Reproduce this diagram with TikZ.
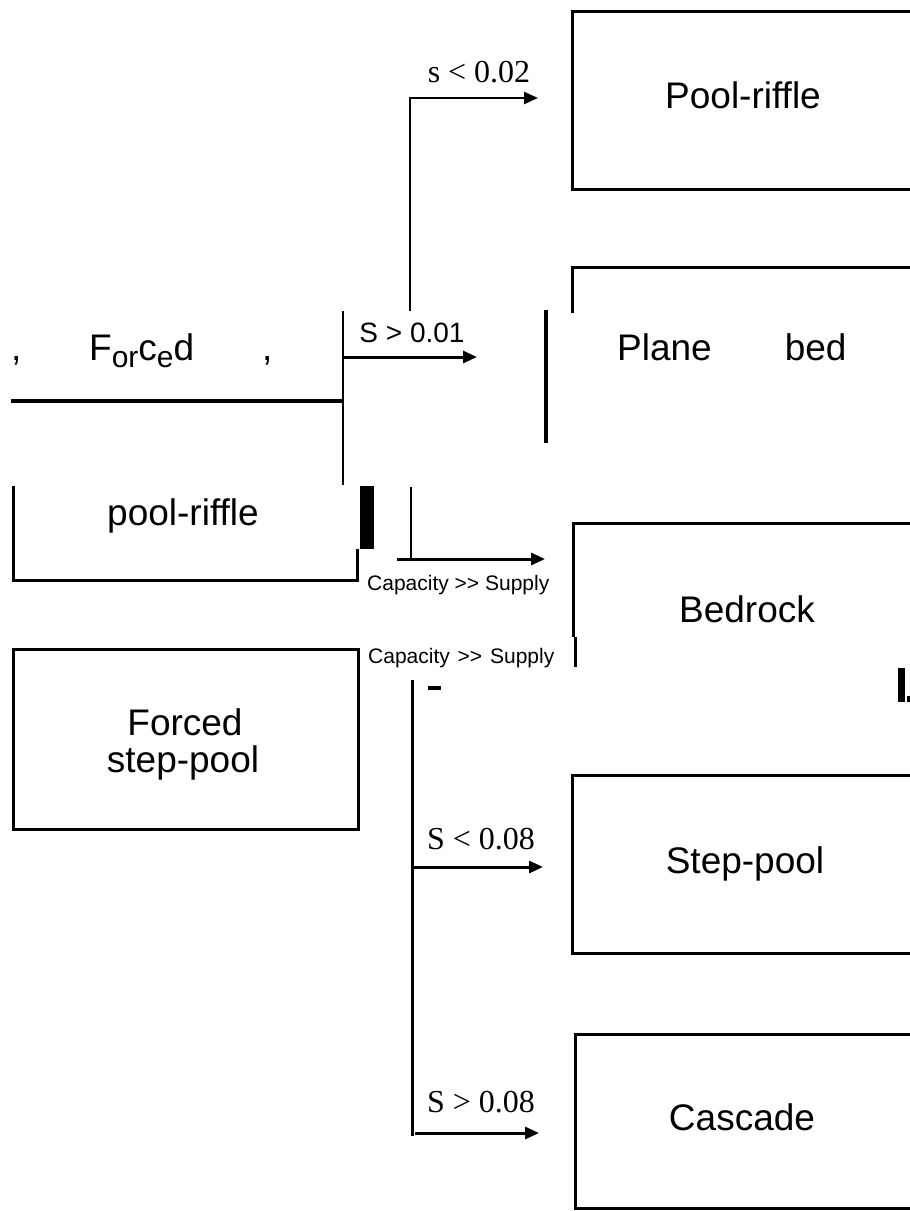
\documentclass[tikz,border=0pt]{standalone}
\usepackage{fontspec}
\setmainfont{Liberation Sans}
\newfontfamily\tnr{Liberation Serif}
\usetikzlibrary{arrows.meta}
\begin{document}
\begin{tikzpicture}[x=1pt,y=-1pt,
  frame/.style={line width=3pt},
  conn/.style={line width=2.4pt},
  arr/.style={line width=3pt,-{Triangle[length=14pt,width=12pt]}},
  big/.style={font=\fontsize{37}{37}\selectfont, inner sep=0pt, anchor=base},
  cond/.style={font=\tnr\fontsize{32}{32}\selectfont, inner sep=0pt, anchor=base},
  captext/.style={font=\fontsize{21}{21}\selectfont, inner sep=0pt, anchor=base west}]
\useasboundingbox (0,0) rectangle (910,1211);

% Pool-riffle box (top right)
\coordinate (pr1) at (910,11); \coordinate (pr2) at (572,11);
\coordinate (pr3) at (572,189); \coordinate (pr4) at (910,189);
\draw[frame] (pr1) -- (pr2) -- (pr3) -- (pr4);
\node[big] (prt) at (743,108) {Pool-riffle};

% s < 0.02 connector
\coordinate (a1) at (410,311); \coordinate (a2) at (410,98); \coordinate (a3) at (538,98);
\draw[arr,line width=2.4pt] (a1) -- (a2) -- (a3);
\node[cond] (l1) at (479,82) {s < 0.02};

% Plane bed box (fragment)
\coordinate (pb1) at (910,267); \coordinate (pb2) at (572,267); \coordinate (pb3) at (572,313);
\draw[frame] (pb1) -- (pb2) -- (pb3);
\coordinate (pb4) at (546,310); \coordinate (pb5) at (546,443);
\draw[line width=3.5pt] (pb4) -- (pb5);
\node[big,anchor=base west] (pbt) at (617,360) {Plane\hspace{73pt}bed};

% junction
\coordinate (j1) at (343,311); \coordinate (j2) at (343,485);
\draw[conn] (j1) -- (j2);
\coordinate (h1) at (11,401); \coordinate (h2) at (343,401);
\draw[line width=3.5pt] (h1) -- (h2);
\coordinate (s1) at (343,357); \coordinate (s2) at (477,357);
\draw[arr] (s1) -- (s2);
\node[font=\fontsize{28}{28}\selectfont, anchor=base, inner sep=0pt] (l2) at (412,342) {S > 0.01};

% Forced (broken)
\node[big,anchor=base west] (c1) at (11,360) {,};
\node[big,anchor=base west] (fo) at (89,360) {F\raisebox{-7pt}{\fontsize{30}{30}\selectfont or}c\raisebox{-7pt}{\fontsize{30}{30}\selectfont e}d};
\node[big,anchor=base west] (c2) at (262,360) {,};

% pool-riffle box (fragment)
\coordinate (p1) at (13,486); \coordinate (p2) at (13,580);
\coordinate (p3) at (357,580); \coordinate (p4) at (357,549);
\draw[frame] (p1) -- (p2) -- (p3) -- (p4);
\fill (360,486) rectangle (374,549);
\node[big] (prl) at (183,525) {pool-riffle};

% Capacity >> Supply arrow
\coordinate (k1) at (411,487); \coordinate (k2) at (411,559);
\draw[conn] (k1) -- (k2);
\coordinate (k3) at (397,559); \coordinate (k4) at (545,559);
\draw[arr] (k3) -- (k4);
\node[captext] (cs1) at (367,590) {Capacity >\kern0pt> Supply};
\node[captext] (cs2) at (368,663) {Capacity\hspace{2pt} >\kern0pt>\hspace{2pt} Supply};

% Bedrock box (fragment)
\coordinate (b1) at (910,523); \coordinate (b2) at (573,523); \coordinate (b3) at (573,637);
\draw[frame] (b1) -- (b2) -- (b3);
\coordinate (b4) at (575,637); \coordinate (b5) at (575,667);
\draw[frame] (b4) -- (b5);
\node[big] (bt) at (747,622) {Bedrock};
\fill (898,668) rectangle (905,702);
\fill (907,696) rectangle (910,702);

% Forced step-pool box
\draw[frame] (13,649) rectangle (358,829);
\node[big] (fs1) at (185,735) {Forced};
\node[big] (fs2) at (183,772) {step-pool};

% lower trunk
\coordinate (t1) at (412,680); \coordinate (t2) at (412,1136);
\draw[line width=3pt] (t1) -- (t2);
\fill (428,686) rectangle (441,690);
\coordinate (sp1) at (412,867); \coordinate (sp2) at (543,867);
\draw[arr] (sp1) -- (sp2);
\node[cond] (l3) at (481,849) {S < 0.08};
\coordinate (cc1) at (415,1133); \coordinate (cc2) at (539,1133);
\draw[arr] (cc1) -- (cc2);
\node[cond] (l4) at (481,1112) {S > 0.08};

% Step-pool box
\draw[frame] (910,775) -- (572,775) -- (572,953) -- (910,953);
\node[big] (spt) at (745,873) {Step-pool};

% Cascade box
\draw[frame] (910,1034) -- (575,1034) -- (575,1208) -- (910,1208);
\node[big] (cat) at (742,1130) {Cascade};
\end{tikzpicture}
\end{document}
